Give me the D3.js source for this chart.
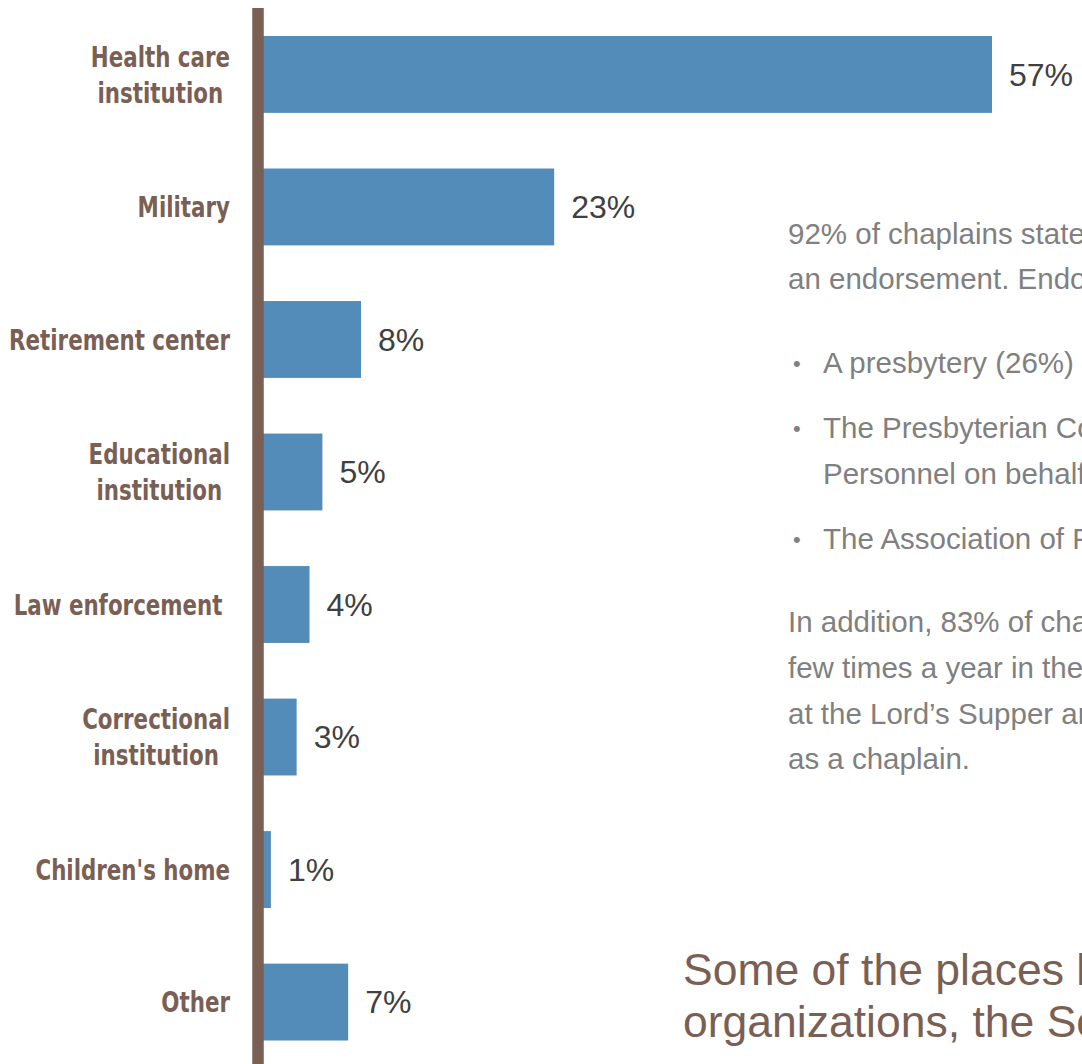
<!DOCTYPE html>
<html>
<head>
<meta charset="utf-8">
<script src="https://cdn.jsdelivr.net/npm/d3@7"></script>
<style>
  html, body { margin: 0; padding: 0; background: #fff; overflow: hidden; }
  svg { display: block; }
</style>
</head>
<body>
<svg id="chart" width="1082" height="1064"></svg>
<script>
// Where chaplains serve (share of respondents)
const categories = [
  ["Health care", "institution"],
  ["Military"],
  ["Retirement center"],
  ["Educational", "institution"],
  ["Law enforcement\u00a0"],
  ["Correctional", "institution"],
  ["Children's home"],
  ["Other"]
];
const values = [57, 23, 8, 5, 4, 3, 1, 7];
const valueLabels = ["57%", "23%", "8%", "5%", "4%", "3%", "1%", "7%"];

const introLines = [
  "92% of chaplains stated that they hold",
  "an endorsement. Endorsements come from:"
];
const bulletItems = [
  ["A presbytery (26%)"],
  ["The Presbyterian Committee on Chaplains and Military", "Personnel on behalf of the church"],
  ["The Association of Presbyterian chaplains"]
];
const closingLines = [
  "In addition, 83% of chaplains say they serve a",
  "few times a year in their own church, including",
  "at the Lord\u2019s Supper and in other pastoral work",
  "as a chaplain."
];
const titleLines = [
  "Some of the places listed above include health care",
  "organizations, the Southern region and more"
];

const BROWN = "#7a5f55";
const BLUE = "#538bb9";
const W = 1082, H = 1064;

const svg = d3.select("#chart");

const x = d3.scaleLinear()
  .domain([0, d3.max(values)])
  .range([258, 992]);

const y = d3.scaleBand()
  .domain(d3.range(values.length))
  .range([36, 1040.5])
  .paddingInner(0.42)
  .paddingOuter(0);

// bars
svg.append("g").selectAll("rect")
  .data(values)
  .join("rect")
  .attr("x", x(0))
  .attr("y", (d, i) => y(i))
  .attr("width", d => x(d) - x(0))
  .attr("height", y.bandwidth())
  .attr("fill", BLUE);

// value labels
svg.append("g").selectAll("text")
  .data(values)
  .join("text")
  .attr("x", d => x(d) + 17)
  .attr("y", (d, i) => y(i) + y.bandwidth() / 2)
  .attr("dy", "0.35em")
  .attr("font-family", "'Liberation Sans', Arial, sans-serif")
  .attr("font-size", 32)
  .attr("fill", "#404040")
  .text((d, i) => valueLabels[i]);

// vertical baseline
svg.append("line")
  .attr("x1", x(0)).attr("x2", x(0))
  .attr("y1", 8).attr("y2", H)
  .attr("stroke", BROWN)
  .attr("stroke-width", 11.5);

// category labels: right-aligned blocks with centred lines, condensed horizontally
const labelRight = 230;
const lineGap = 36;
const squeeze = 0.82;
const catG = svg.append("g")
  .attr("font-family", "'DejaVu Sans Condensed', 'DejaVu Sans', sans-serif")
  .attr("font-weight", "bold")
  .attr("font-size", 29)
  .attr("fill", BROWN);

categories.forEach((lines, i) => {
  const cy = y(i) + y.bandwidth() / 2;
  const g = catG.append("g")
    .attr("transform", `translate(${labelRight},0) scale(${squeeze},1)`);
  const texts = lines.map((ln, k) =>
    g.append("text")
      .attr("y", cy + (k - (lines.length - 1) / 2) * lineGap)
      .attr("dy", "0.35em")
      .attr("text-anchor", "middle")
      .style("white-space", "pre")
      .text(ln)
  );
  const widths = texts.map(t => t.node().getComputedTextLength());
  const blockW = d3.max(widths);
  texts.forEach(t => t.attr("x", -blockW / 2));
});

// note text on the right
const noteG = svg.append("g")
  .attr("font-family", "'Liberation Sans', Arial, sans-serif")
  .attr("font-size", 29.5)
  .attr("fill", "#808080");

const noteX = 788, bulletX = 793, bulletTextX = 823;
let yy = 234;
introLines.forEach(t => {
  noteG.append("text").attr("x", noteX).attr("y", yy).attr("dy", "0.35em").text(t);
  yy += 45;
});
yy += 39;
bulletItems.forEach(item => {
  noteG.append("text").attr("x", bulletX).attr("y", yy).attr("dy", "0.35em")
    .attr("font-size", 22).text("\u2022");
  item.forEach(t => {
    noteG.append("text").attr("x", bulletTextX).attr("y", yy).attr("dy", "0.35em").text(t);
    yy += 46;
  });
  yy += 19;
});
yy += 18;
closingLines.forEach(t => {
  noteG.append("text").attr("x", noteX).attr("y", yy).attr("dy", "0.35em").text(t);
  yy += 45.7;
});

// heading near the bottom
const titleG = svg.append("g")
  .attr("font-family", "'Liberation Sans', Arial, sans-serif")
  .attr("font-size", 44.5)
  .attr("fill", BROWN);
titleLines.forEach((t, k) => {
  titleG.append("text").attr("x", 683).attr("y", 969 + k * 52).attr("dy", "0.35em").text(t);
});
</script>
</body>
</html>
